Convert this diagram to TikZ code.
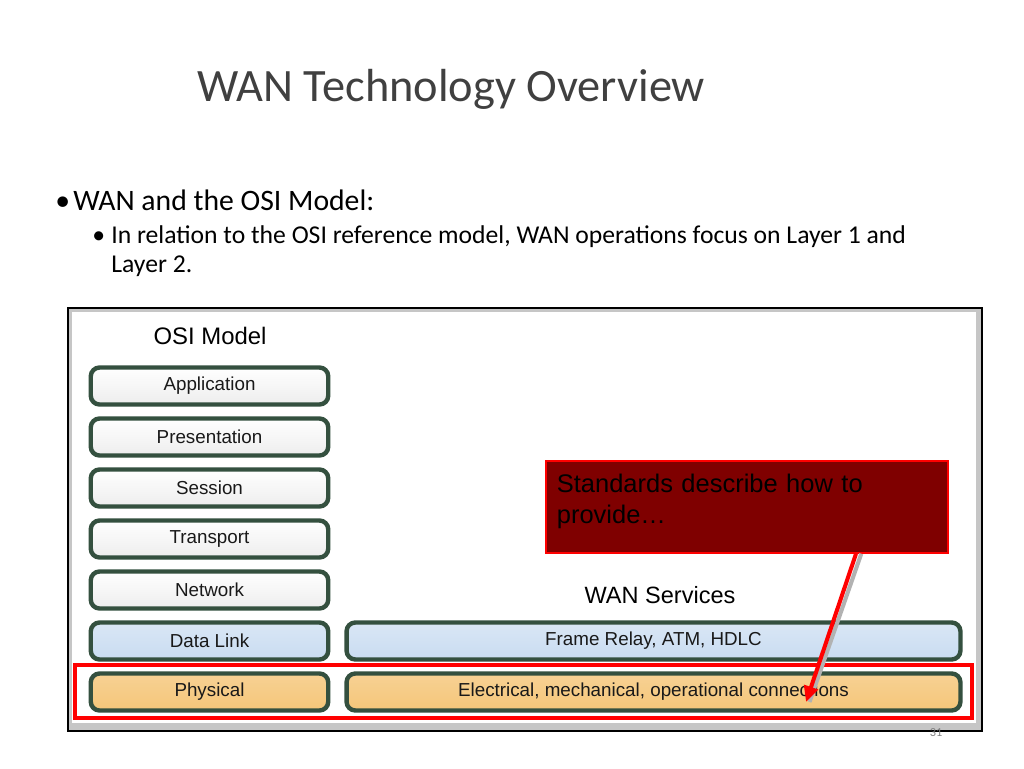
\documentclass[tikz,border=0pt]{standalone}
\usepackage{fontspec}
\setmainfont{Carlito}
\newfontfamily\arialfont{Liberation Sans}
\usetikzlibrary{arrows.meta}

\definecolor{osigreen}{HTML}{34503F}
\definecolor{calloutred}{HTML}{7F0000}
\definecolor{linkblue}{HTML}{C9DCF1}
\definecolor{physorange}{HTML}{F5C679}

\tikzset{
    layer/.style={draw=osigreen, line width=2.5pt, rounded corners=5pt,
        minimum width=4.75cm, minimum height=0.74cm,
        font=\arialfont\fontsize{10.7}{12}\selectfont, text=black!90,
        top color=white, bottom color=gray!14},
    wanlayer/.style={layer, minimum width=12.28cm},
    linklayer/.style={top color=linkblue!70, bottom color=linkblue},
    physlayer/.style={top color=physorange!80, bottom color=physorange},
    slidetext/.style={anchor=base west, inner sep=0pt}
}

\begin{document}
\begin{tikzpicture}[x=0.02cm, y=-0.02cm]
        \useasboundingbox (0,0) rectangle (1024,768);
        % slide text
        \node[slidetext, font=\fontsize{26.4}{32}\selectfont, text=black!75] (title) at (197,101) {WAN Technology Overview};
        \node[slidetext, font=\fontsize{16.9}{20}\selectfont] (b1) at (55,210) {\textbullet};
        \node[slidetext, font=\fontsize{16.9}{20}\selectfont] (osi) at (73,210) {WAN and the OSI Model:};
        \node[slidetext, font=\fontsize{14.6}{17}\selectfont] (b2) at (92,243) {\textbullet};
        \node[slidetext, font=\fontsize{14.6}{17}\selectfont] (rel1) at (111,243) {In relation to the OSI reference model, WAN operations focus on Layer 1 and};
        \node[slidetext, font=\fontsize{14.6}{17}\selectfont] (rel2) at (111,272) {Layer 2.};
        % frame of the figure
        \draw[line width=1.5pt, fill=gray!45] (68,308) rectangle (982,731);
        \fill[white] (72,312) rectangle (976,723);
        \node[font=\arialfont\fontsize{13.6}{16}\selectfont] (osititle) at (210,336) {OSI Model};
        % OSI layers
        \node[layer] (app) at (209.5,386) {Application};
        \node[layer] (pres) at (209.5,437) {Presentation};
        \node[layer] (sess) at (209.5,488) {Session};
        \node[layer] (trans) at (209.5,539) {Transport};
        \node[layer] (net) at (209.5,590) {Network};
        \node[layer, linklayer] (dlink) at (209.5,641) {Data Link};
        \node[layer, physlayer] (phys) at (209.5,692) {Physical};
        % WAN services
        \node[font=\arialfont\fontsize{13.4}{16}\selectfont] (wantitle) at (660,595) {WAN Services};
        \node[wanlayer, linklayer] (frame) at (653.5,641) {Frame Relay, ATM, HDLC};
        \node[wanlayer, physlayer] (elec) at (653.5,692) {Electrical, mechanical, operational connections};
        \draw[red, line width=1.8pt] (75,665) rectangle (972,718);
        % callout
        \node[anchor=north west, fill=calloutred, draw=red, line width=1pt,
            text width=7.6cm, inner xsep=0.22cm, inner ysep=0.2cm,
            text height=0.44cm, text depth=1.0cm, align=left,
            font=\arialfont\fontsize{14.5}{17.2}\selectfont] (callout) at (545,460)
            {Standards describe how to\\provide\dots};
        \coordinate (tail) at (856,556);
        \coordinate (tip) at (806,702);
        \draw[gray!60, line width=2.3pt] ([xshift=3pt]callout.south -| tail) -- ([xshift=2pt]tip);
        \draw[red, line width=2.3pt, -{Triangle[length=9pt,width=8pt]}] (callout.south -| tail) -- (tip);
        \node[font=\fontsize{7}{8}\selectfont, text=gray] (page) at (936,733) {31};
\end{tikzpicture}
\end{document}
